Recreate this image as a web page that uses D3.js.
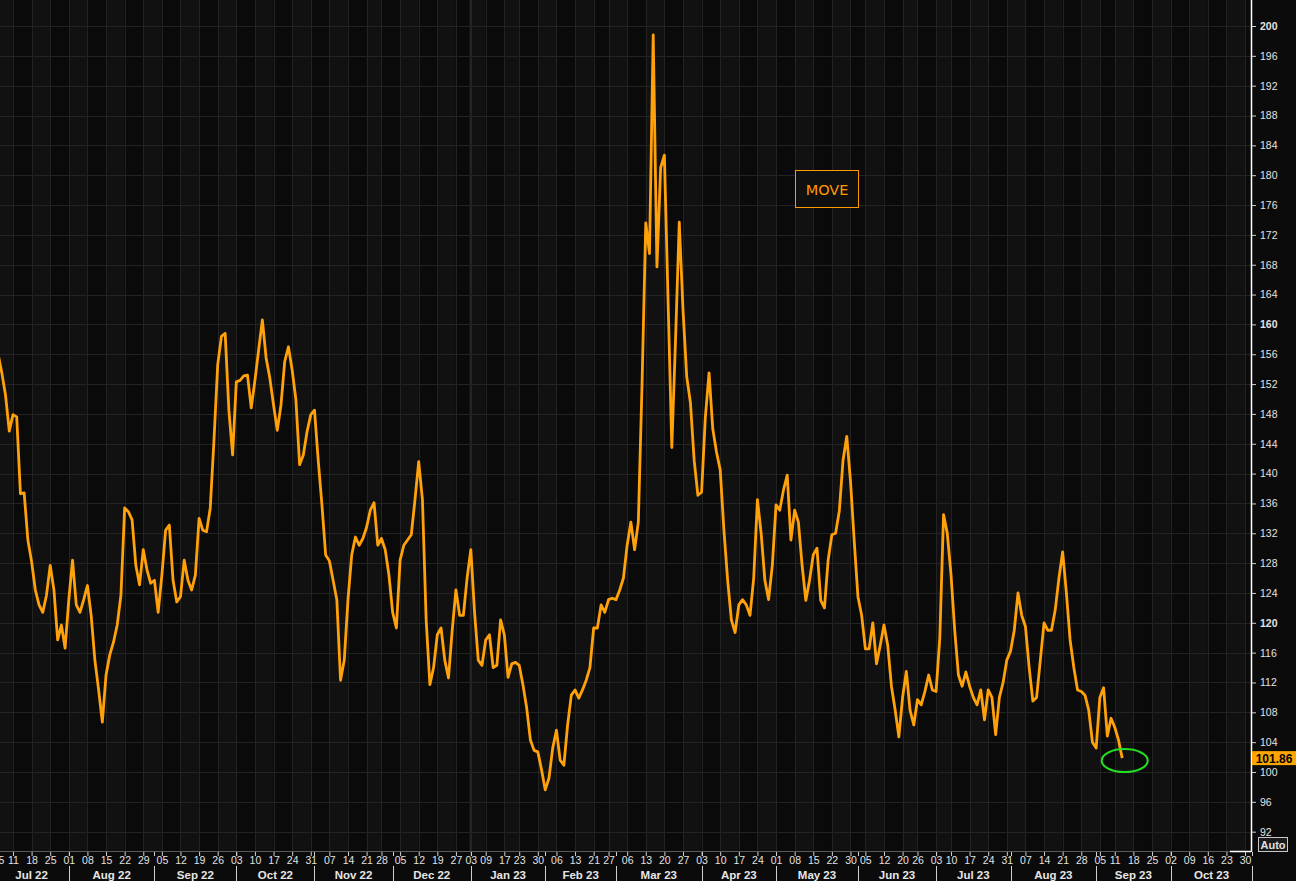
<!DOCTYPE html>
<html><head><meta charset="utf-8">
<script src="https://cdn.jsdelivr.net/npm/d3@7"></script>
<style>html,body{margin:0;padding:0;background:#0b0b0b;overflow:hidden}svg{display:block}</style>
</head><body>
<svg id="chart" width="1296" height="881"></svg>
<script>
// ---------------- data ----------------
const seriesName = "MOVE";
const firstDataDate = "2022-07-05";
const lastValueText = "101.86";
const moveValues = [
156,153.5,150.5,145.7,147.9,147.6,137.3,137.4,131.1,128.2,
124.4,122.4,121.4,123.7,127.7,124.4,117.7,119.7,116.6,123.1,
128.4,122.4,121.4,123.1,125,121,115,111,106.7,113,
115.7,117.4,119.7,123.7,135.4,134.9,133.8,127.7,125.1,129.8,
127.1,125.3,125.7,121.4,126.4,132.4,133.1,125.7,122.8,123.5,
128.4,125.7,124.4,126.4,134,132.4,132.2,135.4,144.5,154.6,
158.4,158.8,148.5,142.5,152.3,152.5,153.1,153.2,148.8,152.5,
156.6,160.6,155.5,152.8,149.2,145.8,149.2,155,157,153.9,
149.9,141.2,142.5,145.6,147.9,148.5,141.8,135.8,129.1,128.3,
125.7,123.1,112.3,115,123.1,129.1,131.5,130.4,131.3,132.8,
135.1,136.1,130.4,131.3,129.8,126.4,121.4,119.3,128.4,130.4,
131.1,131.8,136.5,141.6,136.5,120.4,111.7,114,118.4,119.3,
115,112.6,119,124.4,121,121,126,129.8,121.4,115,
114.3,117.7,118.4,114,114.3,120.4,118.4,112.7,114.5,114.7,
114.3,111.7,108.6,104.3,102.9,102.7,100.3,97.6,99.2,103.2,
105.6,101.6,100.9,106.3,110.3,111,109.9,111,112.3,114,
119.3,119.3,122.4,121.4,123.1,123.3,123.1,124.4,126,130.4,
133.5,129.8,133.5,152,173.6,169.5,198.8,167.7,181,182.7,
163,143.5,158,173.7,162,153,149.5,141.8,137.1,137.5,
147.5,153.5,146,142.9,140.5,132.4,125.7,120.4,118.7,122.4,
123.1,122.4,121,126,136.5,132,125.7,123.1,127.7,135.8,
135.1,137.8,139.8,131.1,135.1,133.5,127.7,123,125.7,129.1,
130,123,122,128.4,131.8,132,135,141.8,145,139,
131,123.5,121,116.5,116.5,120,114.5,117,119.7,117,
111.5,108.3,104.7,110,113.5,108.3,106.3,109.7,109,110.8,
113,111,110.8,118,134.5,132,126.5,119,113,111.5,
113.4,111.5,110,109,111,107,111,110,105,110,
112,115,116.2,119,124,121,119.5,114,109.5,110,
115,120,119,119,121.7,126,129.5,124,117.7,114,
111,110.8,110.3,108.3,104,103.2,110,111.3,104.8,107.2,
106,104.3,101.86
];
// trading calendar (weekdays minus market holidays)
const calendarStart = "2022-07-01";
const calendarEnd = "2023-11-01";
const holidays = ["2022-07-04","2022-11-24","2022-12-26","2023-01-02","2023-01-16",
  "2023-02-20","2023-05-29","2023-06-19","2023-07-04","2023-09-04"];
const monthLabels = ["Jul 22","Aug 22","Sep 22","Oct 22","Nov 22","Dec 22","Jan 23",
  "Feb 23","Mar 23","Apr 23","May 23","Jun 23","Jul 23","Aug 23","Sep 23","Oct 23"];
const yTickValues = [92,96,100,104,108,112,116,120,124,128,132,136,140,144,148,152,156,
  160,164,168,172,176,180,184,188,192,196,200,204];
const yBoldTicks = [120,160,200];

// ---------------- layout ----------------
const W = 1296, H = 881;
const plotRight = 1251, plotBottom = 851;
const FONT = "'Liberation Sans', Arial, sans-serif";

const parse = d3.utcParse("%Y-%m-%d");
const fmt = d3.utcFormat("%Y-%m-%d");
const hol = new Set(holidays);
const calendar = d3.utcDay.range(parse(calendarStart), d3.utcDay.offset(parse(calendarEnd), 1))
  .filter(d => d.getUTCDay() > 0 && d.getUTCDay() < 6 && !hol.has(fmt(d)));
const idxOf = new Map(calendar.map((d, i) => [fmt(d), i]));
const startIdx = idxOf.get(firstDataDate);
const data = moveValues.map((v, k) => ({ idx: startIdx + k, date: calendar[startIdx + k], value: v }));

const x = d3.scaleLinear().domain([1.51, 337.6]).range([0, plotRight]);
const y = d3.scaleLinear().domain([100, 200]).range([772, 26]);

// weekly ticks: first trading day of each full week; month starts
const weekTicks = [], monthStarts = [];
calendar.forEach((d, i) => {
  if (i > 0 && +d3.utcMonday.floor(d) !== +d3.utcMonday.floor(calendar[i - 1])) weekTicks.push(i);
  if (i === 0 || d.getUTCMonth() !== calendar[i - 1].getUTCMonth()) monthStarts.push(i);
});

const svg = d3.select("#chart");
svg.append("rect").attr("width", W).attr("height", H).attr("fill", "#0b0b0b");

svg.append("clipPath").attr("id", "plotclip").append("rect")
  .attr("x", 0).attr("y", 0).attr("width", plotRight).attr("height", plotBottom);
const plot = svg.append("g").attr("clip-path", "url(#plotclip)");

// alternating weekly bands
const bandEdges = [x.invert(0) - 10, ...weekTicks, 400];
for (let k = 0; k < bandEdges.length - 1; k++) {
  const x0 = Math.max(0, x(bandEdges[k])), x1 = Math.min(plotRight, x(bandEdges[k + 1]));
  if (x1 <= x0) continue;
  plot.append("rect").attr("x", x0).attr("y", 0).attr("width", x1 - x0).attr("height", plotBottom)
    .attr("fill", k % 2 === 0 ? "#0a0a0a" : "#111111");
}
// grid
plot.selectAll("line.vg").data(weekTicks).join("line").attr("class", "vg")
  .attr("x1", d => Math.round(x(d)) + 0.5).attr("x2", d => Math.round(x(d)) + 0.5)
  .attr("y1", 0).attr("y2", plotBottom).attr("stroke", "#232323").attr("stroke-width", 1);
const yearStarts = monthStarts.filter(i => calendar[i].getUTCMonth() === 0);
plot.selectAll("line.yg").data(yearStarts).join("line").attr("class", "yg")
  .attr("x1", d => x(d)).attr("x2", d => x(d))
  .attr("y1", 0).attr("y2", plotBottom).attr("stroke", "#242424").attr("stroke-width", 2.5);
plot.selectAll("line.hg").data(yTickValues).join("line").attr("class", "hg")
  .attr("x1", 0).attr("x2", plotRight)
  .attr("y1", d => Math.round(y(d)) + 0.5).attr("y2", d => Math.round(y(d)) + 0.5)
  .attr("stroke", "#232323").attr("stroke-width", 1);

// series line
const line = d3.line().x(d => x(d.idx)).y(d => y(d.value));
plot.append("path").datum(data).attr("d", line)
  .attr("fill", "none").attr("stroke", "#ffa10a").attr("stroke-width", 2.8)
  .attr("stroke-linejoin", "round");

// highlight ellipse at the last point
const last = data[data.length - 1];
svg.append("ellipse").attr("cx", x(last.idx) + 2.5).attr("cy", y(last.value) + 2.5)
  .attr("rx", 23).attr("ry", 11.5).attr("fill", "none")
  .attr("stroke", "#22dd22").attr("stroke-width", 2);

// series label
const lab = svg.append("g").attr("transform", "translate(795.5,170.5)");
lab.append("rect").attr("width", 63).attr("height", 37).attr("fill", "#101010")
  .attr("stroke", "#ff9900").attr("stroke-width", 1);
lab.append("text").attr("x", 31.5).attr("y", 24).attr("text-anchor", "middle")
  .attr("font-family", "'DejaVu Sans', sans-serif").attr("font-size", 14.5)
  .attr("fill", "#ff9900").text(seriesName);

// ---------------- y axis (right) ----------------
const yAxis = svg.append("g").attr("transform", `translate(${plotRight},0)`)
  .call(d3.axisRight(y).tickValues(yTickValues).tickSize(5).tickPadding(4)
    .tickFormat(d3.format("d")));
yAxis.select(".domain").remove();
yAxis.selectAll(".tick line").attr("stroke", "#cfcfcf");
yAxis.selectAll(".tick text").attr("fill", "#e2e2e2").attr("font-family", FONT)
  .attr("font-size", 10.5).attr("font-weight", d => yBoldTicks.includes(d) ? "bold" : "normal");
svg.append("line").attr("x1", plotRight + 0.5).attr("x2", plotRight + 0.5)
  .attr("y1", 0).attr("y2", plotBottom + 1).attr("stroke", "#ffffff").attr("stroke-width", 1.5);

// last value tag
const ty = y(last.value);
svg.append("rect").attr("x", plotRight + 1).attr("y", ty - 7).attr("width", W - plotRight - 1)
  .attr("height", 14).attr("fill", "#ffa500");
svg.append("text").attr("x", plotRight + 23).attr("y", ty + 4.5).attr("text-anchor", "middle")
  .attr("font-family", FONT).attr("font-weight", "bold").attr("font-size", 12)
  .attr("fill", "#000").text(lastValueText);

// Auto box
svg.append("rect").attr("x", 1258.5).attr("y", 837.5).attr("width", 29).attr("height", 14)
  .attr("fill", "#1a1a1a").attr("stroke", "#c8c8c8");
svg.append("text").attr("x", 1273).attr("y", 848.5).attr("text-anchor", "middle")
  .attr("font-family", FONT).attr("font-weight", "bold").attr("font-size", 11)
  .attr("fill", "#e0e0e0").text("Auto");

// ---------------- x axis ----------------
svg.append("line").attr("x1", 0).attr("x2", plotRight).attr("y1", plotBottom + 0.5).attr("y2", plotBottom + 0.5)
  .attr("stroke", "#5a5a5a");
svg.append("line").attr("x1", 1230).attr("x2", plotRight).attr("y1", plotBottom + 0.5).attr("y2", plotBottom + 0.5)
  .attr("stroke", "#ffffff").attr("stroke-width", 1.5);

const xAxis = svg.append("g").attr("transform", `translate(0,${plotBottom + 1})`)
  .call(d3.axisBottom(x).tickValues(weekTicks).tickSize(4).tickPadding(1)
    .tickFormat(i => d3.utcFormat("%d")(calendar[i])));
xAxis.select(".domain").remove();
xAxis.selectAll(".tick line").attr("stroke", "#d0d0d0");
xAxis.selectAll(".tick text").attr("fill", "#e2e2e2").attr("font-family", FONT).attr("font-size", 10.5);

// month boundary ticks + separators + labels
const mAxis = svg.append("g");
const monthEdge = monthStarts.map(i => x(i));
monthStarts.forEach((i, k) => {
  const mx = Math.round(x(i)) + 0.5;
  mAxis.append("line").attr("x1", mx).attr("x2", mx).attr("y1", plotBottom + 1).attr("y2", plotBottom + 5)
    .attr("stroke", "#d0d0d0");
  mAxis.append("line").attr("x1", mx).attr("x2", mx).attr("y1", 866).attr("y2", H)
    .attr("stroke", "#cfcfcf");
  if (k < monthLabels.length) {
    const nextX = k + 1 < monthEdge.length ? monthEdge[k + 1] : x(i + 21);
    mAxis.append("text").attr("x", (x(i) + nextX) / 2).attr("y", 879).attr("text-anchor", "middle")
      .attr("font-family", FONT).attr("font-weight", "bold").attr("font-size", 11.5)
      .attr("fill", "#e6e6e6").text(monthLabels[k]);
  }
});
</script>
</body></html>
